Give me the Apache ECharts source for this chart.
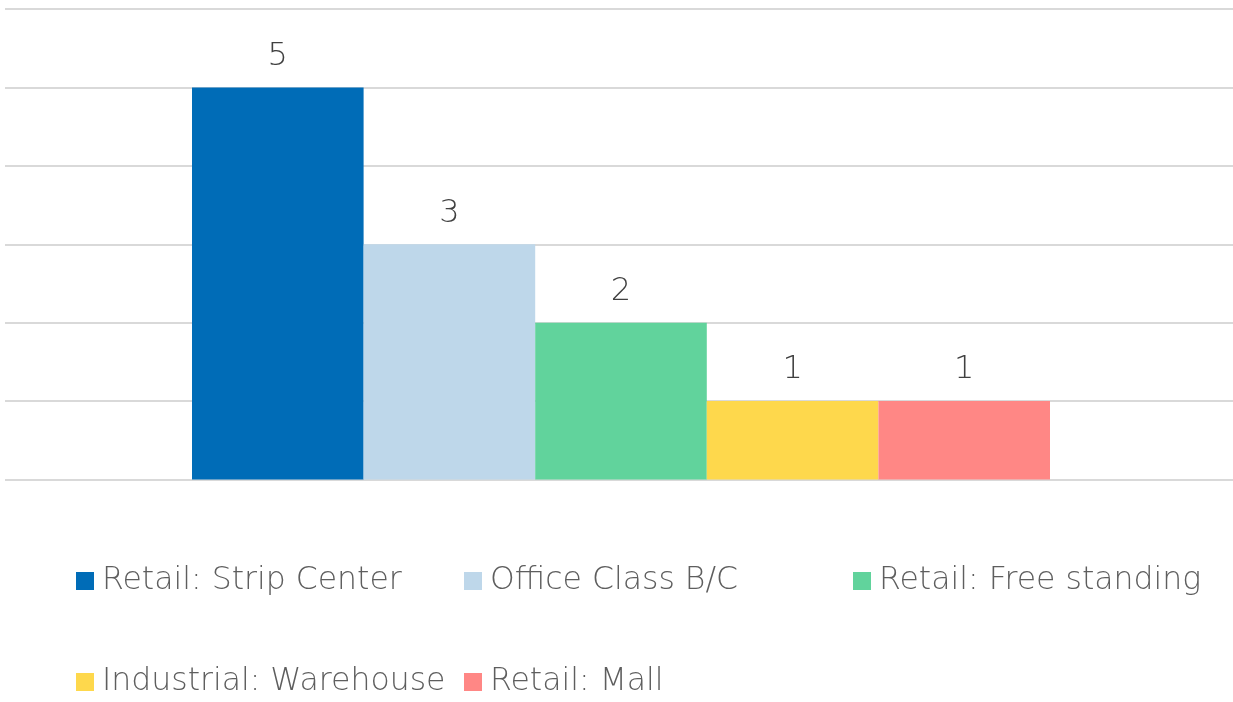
<!DOCTYPE html>
<html>
<head>
<meta charset="utf-8">
<script src="https://cdn.jsdelivr.net/npm/echarts@6/dist/echarts.min.js"></script>
<style>
html,body{margin:0;padding:0;background:#fff;}
#chart{width:1233px;height:702px;}
</style>
</head>
<body>
<div id="chart"></div>
<script>
const categories = [''];
const seriesNames = ['Retail: Strip Center', 'Office Class B/C', 'Retail: Free standing', 'Industrial: Warehouse', 'Retail: Mall'];
const seriesValues = [5, 3, 2, 1, 1];
const seriesColors = ['#006cb7', '#bed7ea', '#61d39c', '#fed84c', '#ff8785'];

const FONT = '"DejaVu Sans", sans-serif';
const legendPos = [
  {left: 76, top: 565}, {left: 464, top: 565}, {left: 853, top: 565},
  {left: 76, top: 666}, {left: 464, top: 666}
];

const chart = echarts.init(document.getElementById('chart'));
chart.setOption({
  animation: false,
  backgroundColor: '#ffffff',
  grid: [
    {left: 5, right: 0, top: 9, bottom: 222.5},
    {left: 9, right: 0, top: 9, bottom: 222.5}
  ],
  xAxis: [
    {gridIndex: 0, type: 'category', data: categories, show: false},
    {gridIndex: 1, type: 'category', data: categories, show: false}
  ],
  yAxis: [
    {
      gridIndex: 0, type: 'value', min: 0, max: 6, interval: 1,
      axisLine: {show: false}, axisTick: {show: false}, axisLabel: {show: false},
      splitLine: {lineStyle: {color: '#d9d9d9', width: 2}}
    },
    {
      gridIndex: 1, type: 'value', min: 0, max: 6, interval: 1,
      axisLine: {show: false}, axisTick: {show: false}, axisLabel: {show: false},
      splitLine: {show: false}
    }
  ],
  legend: seriesNames.map((n, i) => ({
    data: [n], left: legendPos[i].left, top: legendPos[i].top, padding: 0,
    itemWidth: 18, itemHeight: 18, icon: 'rect',
    textStyle: {fontFamily: FONT, fontWeight: 200, fontSize: 31.5, color: '#5e5e5e', padding: [0, 0, 0, 3]}
  })),
  series: seriesNames.map((n, i) => ({
    name: n, type: 'bar', xAxisIndex: 1, yAxisIndex: 1,
    barWidth: 171.6, barGap: '0%',
    data: [seriesValues[i]],
    itemStyle: {color: seriesColors[i]},
    label: {show: true, position: 'top', distance: 15, fontFamily: FONT, fontWeight: 200, fontSize: 32, color: '#404040'}
  }))
});
</script>
</body>
</html>
